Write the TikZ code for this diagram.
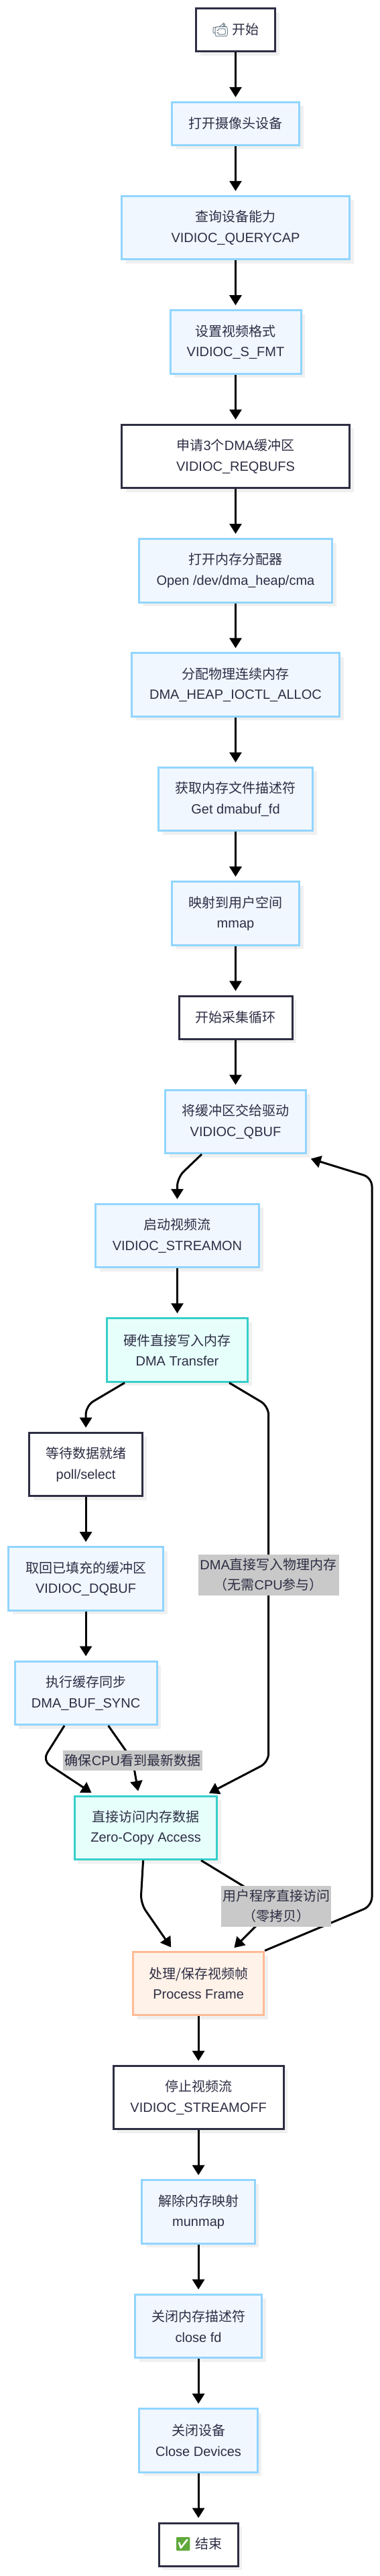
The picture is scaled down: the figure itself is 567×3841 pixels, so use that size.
\documentclass[tikz,border=0pt]{standalone}
\usepackage{fontspec}
\setmainfont{Liberation Sans}
\newfontfamily\cjkfont{Noto Sans CJK SC}
\newfontfamily\emojifont{Noto Emoji}
\newcommand{\zh}[1]{{\cjkfont #1}}
\usetikzlibrary{arrows.meta, positioning, shadows}
\definecolor{inkdark}{HTML}{2D2D44}
\definecolor{bluefill}{HTML}{F0F7FF}
\definecolor{blueline}{HTML}{91D5FF}
\definecolor{tealfill}{HTML}{E6FFFB}
\definecolor{tealline}{HTML}{36CFC9}
\definecolor{orangefill}{HTML}{FFF2E8}
\definecolor{orangeline}{HTML}{FFBB96}
\definecolor{labelgray}{HTML}{C9C9C9}
\definecolor{camgray}{HTML}{3F5563}
\definecolor{checkgreen}{HTML}{5FA83A}

\begin{document}
\begin{tikzpicture}[
    x=1pt, y=-1pt,
    node distance=72.9pt,
    every node/.style={font=\fontsize{20}{30.6}\selectfont, align=center, text=inkdark},
    box/.style={rectangle, draw=blueline, fill=bluefill, line width=3pt, minimum height=94.5pt, drop shadow={shadow xshift=6pt, shadow yshift=-6pt, fill=black!6, opacity=1}},
    keybox/.style={box, draw=inkdark, fill=white},
    dmabox/.style={box, draw=tealline, fill=tealfill},
    framebox/.style={box, draw=orangeline, fill=orangefill},
    short/.style={minimum height=64pt},
    edgelabel/.style={fill=labelgray, sharp corners, inner xsep=2pt, inner ysep=0pt},
    arrow/.style={-{Triangle[width=18pt,length=15pt]}, line width=3pt, shorten >=6pt, rounded corners=13pt}
]
\useasboundingbox (0,0) rectangle (567,3841);

% NODES
\node[keybox, short, minimum width=118pt] (start) at (351.5,44.5) {{\color{camgray}\emojifont 📹} \zh{开始}};
\node[box, short, minimum width=190pt, below=of start] (open) {\zh{打开摄像头设备}};
\node[box, minimum width=340pt, below=of open] (query) {\zh{查询设备能力}\\VIDIOC\_QUERYCAP};
\node[box, minimum width=195pt, below=of query] (setfmt) {\zh{设置视频格式}\\VIDIOC\_S\_FMT};
\node[keybox, minimum width=340pt, below=of setfmt] (reqbufs) {\zh{申请}3\zh{个}DMA\zh{缓冲区}\\VIDIOC\_REQBUFS};
\node[box, minimum width=288pt, below=of reqbufs] (heap) {\zh{打开内存分配器}\\Open /dev/dma\_heap/cma};
\node[box, minimum width=310pt, below=of heap] (alloc) {\zh{分配物理连续内存}\\DMA\_HEAP\_IOCTL\_ALLOC};
\node[box, minimum width=230pt, below=of alloc] (getfd) {\zh{获取内存文件描述符}\\Get dmabuf\_fd};
\node[box, minimum width=190pt, below=of getfd] (mmap) {\zh{映射到用户空间}\\mmap};
\node[keybox, short, minimum width=169pt, below=of mmap] (loop) {\zh{开始采集循环}};
\node[box, minimum width=210pt, below=of loop] (qbuf) {\zh{将缓冲区交给驱动}\\VIDIOC\_QBUF};
\node[box, minimum width=244pt, below=of qbuf, xshift=-87pt] (streamon) {\zh{启动视频流}\\VIDIOC\_STREAMON};
\node[dmabox, minimum width=210pt, below=of streamon] (dma) {\zh{硬件直接写入内存}\\DMA Transfer};
\node[keybox, minimum width=169pt, below=of dma, xshift=-136.4pt] (poll) {\zh{等待数据就绪}\\poll/select};
\node[box, minimum width=231pt, below=of poll] (dqbuf) {\zh{取回已填充的缓冲区}\\VIDIOC\_DQBUF};
\node[box, minimum width=212pt, below=of dqbuf] (sync) {\zh{执行缓存同步}\\DMA\_BUF\_SYNC};
\node[dmabox, minimum width=212.5pt, below=103.5pt of sync, xshift=89.5pt] (zerocopy) {\zh{直接访问内存数据}\\Zero-Copy Access};
\node[framebox, minimum width=195pt, below=134.5pt of zerocopy, xshift=78.5pt] (frame) {\zh{处理/保存视频帧}\\Process Frame};
\node[keybox, minimum width=254pt, below=of frame] (off) {\zh{停止视频流}\\VIDIOC\_STREAMOFF};
\node[box, minimum width=168.5pt, below=of off] (munmap) {\zh{解除内存映射}\\munmap};
\node[box, minimum width=189pt, below=of munmap] (closefd) {\zh{关闭内存描述符}\\close fd};
\node[box, minimum width=176.5pt, below=of closefd] (closedev) {\zh{关闭设备}\\Close Devices};
\node[keybox, short, minimum width=118pt, below=of closedev] (end) {{\color{checkgreen}\emojifont ✅} \zh{结束}};

% ARROWS
\draw[arrow] (start) -- (open);
\draw[arrow] (open) -- (query);
\draw[arrow] (query) -- (setfmt);
\draw[arrow] (setfmt) -- (reqbufs);
\draw[arrow] (reqbufs) -- (heap);
\draw[arrow] (heap) -- (alloc);
\draw[arrow] (alloc) -- (getfd);
\draw[arrow] (getfd) -- (mmap);
\draw[arrow] (mmap) -- (loop);
\draw[arrow] (loop) -- (qbuf);
\draw[arrow] ([xshift=-50.5pt]qbuf.south) -- (streamon.north |- 0,1756) -- (streamon.north);
\draw[arrow] (streamon) -- (dma);
\draw[arrow] ([xshift=-78.5pt]dma.south) -- (poll.north |- 0,2096) -- (poll.north);
\draw[arrow] (poll) -- (dqbuf);
\draw[arrow] (dqbuf) -- (sync);
\draw[arrow] (frame.north east) -- (555,2841.5) -- (555,1756) -- ([yshift=-5pt]qbuf.south east);
\draw[arrow] ([xshift=77.5pt]dma.south) -- (400.7,2096.7) -- node[edgelabel, pos=0.4735, minimum height=61pt, minimum width=209.6pt] {DMA\zh{直接写入物理内存}\\\zh{（无需}CPU\zh{参与）}} (400.7,2627.5) -- ([xshift=89pt]zerocopy.north);
\draw[arrow] ([xshift=-32pt]sync.south) -- (63.4,2625) -- ([xshift=-76pt]zerocopy.north);
\draw[arrow, rounded corners=4pt] ([xshift=33.5pt]sync.south) -- (198,2625) node[edgelabel, minimum height=30pt, minimum width=208pt] {\zh{确保}CPU\zh{看到最新数据}} -- ([xshift=-10.5pt]zerocopy.north);
\draw[arrow] ([xshift=-4pt]zerocopy.south) -- (209.8,2838) -- ([xshift=-37.5pt]frame.north);
\draw[arrow, rounded corners=4pt] ([xshift=82.5pt]zerocopy.south) -- (412,2842) node[edgelabel, minimum height=61pt, minimum width=164pt] {\zh{用户程序直接访问}\\\zh{（零拷贝）}} -- ([xshift=49pt]frame.north);
\draw[arrow] (frame) -- (off);
\draw[arrow] (off) -- (munmap);
\draw[arrow] (munmap) -- (closefd);
\draw[arrow] (closefd) -- (closedev);
\draw[arrow] (closedev) -- (end);

\end{tikzpicture}
\end{document}
